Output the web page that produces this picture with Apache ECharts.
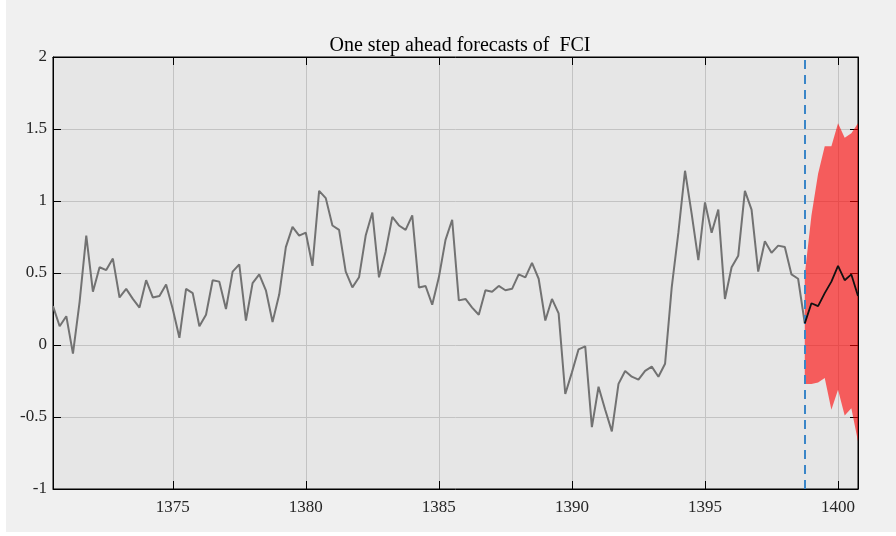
<!DOCTYPE html>
<html>
<head>
<meta charset="utf-8">
<script src="https://cdn.jsdelivr.net/npm/echarts@6/dist/echarts.min.js"></script>
<style>html,body{margin:0;padding:0;background:#fff;}#c{width:896px;height:536px;}</style>
</head>
<body>
<div id="c"></div>
<script>
// ---- data ----
const titleText = 'One step ahead forecasts of  FCI';
const startPeriod = 1370.5;   // first quarter on the time axis
const periodStep = 0.25;      // quarterly
const fciValues = [
  0.27, 0.13, 0.20, -0.06, 0.30, 0.76, 0.37, 0.54, 0.52, 0.60,
  0.33, 0.39, 0.32, 0.26, 0.45, 0.33, 0.34, 0.42, 0.25, 0.05,
  0.39, 0.36, 0.13, 0.21, 0.45, 0.44, 0.25, 0.51, 0.56, 0.17,
  0.43, 0.49, 0.38, 0.16, 0.35, 0.68, 0.82, 0.76, 0.78, 0.55,
  1.07, 1.02, 0.83, 0.80, 0.51, 0.40, 0.47, 0.76, 0.92, 0.47,
  0.65, 0.89, 0.83, 0.80, 0.90, 0.40, 0.41, 0.28, 0.47, 0.73,
  0.87, 0.31, 0.32, 0.26, 0.21, 0.38, 0.37, 0.41, 0.38, 0.39,
  0.49, 0.47, 0.57, 0.46, 0.17, 0.32, 0.22, -0.34, -0.19, -0.03,
  -0.01, -0.57, -0.29, -0.45, -0.60, -0.27, -0.18, -0.22, -0.24, -0.18,
  -0.15, -0.22, -0.13, 0.40, 0.78, 1.21, 0.91, 0.59, 0.99, 0.78,
  0.94, 0.32, 0.54, 0.62, 1.07, 0.94, 0.51, 0.72, 0.64, 0.69,
  0.68, 0.49, 0.46, 0.15
];
const forecastStart = 1398.75;
const forecastValues = [0.15, 0.29, 0.27, 0.36, 0.44, 0.55, 0.45, 0.49, 0.34];
const forecastUpper  = [0.49, 0.90, 1.19, 1.38, 1.38, 1.54, 1.44, 1.47, 1.54];
const forecastLower  = [-0.27, -0.27, -0.26, -0.23, -0.45, -0.31, -0.49, -0.44, -0.67];
const xMin = 1370.5, xMax = 1400.75;
const yMin = -1, yMax = 2, yStep = 0.5;

// ---- build ----
const histData = fciValues.map((v, i) => [startPeriod + i * periodStep, v]);
const fcX = forecastValues.map((v, k) => forecastStart + k * periodStep);
const fcData = forecastValues.map((v, k) => [fcX[k], v]);
const bandData = fcX.map((x, k) => [x, forecastLower[k], forecastUpper[k]]);

const FONT = 'Liberation Serif';
const chart = echarts.init(document.getElementById('c'), null, {renderer: 'canvas'});
const tickStyle = {show: true, inside: true, length: 8, lineStyle: {color: '#000', width: 1}};
chart.setOption({
  backgroundColor: '#ffffff',
  animation: false,
  graphic: [{
    type: 'rect', z: -10, silent: true,
    shape: {x: 6, y: 0, width: 890, height: 532},
    style: {fill: '#f0f0f0'}
  }],
  title: {
    text: titleText, left: 455, top: 31, textAlign: 'center',
    textStyle: {fontFamily: FONT, fontSize: 20, fontWeight: 'normal', color: '#000'}
  },
  grid: {
    left: 53, right: 38, top: 57, bottom: 47, show: true,
    backgroundColor: '#e6e6e6', borderColor: '#000', borderWidth: 1, containLabel: false
  },
  xAxis: [{
    type: 'value', min: xMin, max: xMax, splitNumber: 6,
    axisLine: {show: true, onZero: false, lineStyle: {color: '#000', width: 1}},
    axisTick: tickStyle,
    axisLabel: {show: true, showMinLabel: false, showMaxLabel: false, margin: 10,
      fontFamily: FONT, fontSize: 17, color: '#262626',
      formatter: function (v) { return String(v); }},
    splitLine: {show: true, lineStyle: {color: '#c3c3c3', width: 1}}
  }, {
    type: 'value', min: xMin, max: xMax, splitNumber: 6, position: 'top',
    axisLine: {show: true, onZero: false, lineStyle: {color: '#000', width: 1}},
    axisTick: tickStyle, axisLabel: {show: false}, splitLine: {show: false}
  }],
  yAxis: [{
    type: 'value', min: yMin, max: yMax, interval: yStep,
    axisLine: {show: true, onZero: false, lineStyle: {color: '#000', width: 1}},
    axisTick: tickStyle,
    axisLabel: {show: true, margin: 6, fontFamily: FONT, fontSize: 17, color: '#262626'},
    splitLine: {show: true, lineStyle: {color: '#c3c3c3', width: 1}}
  }, {
    type: 'value', min: yMin, max: yMax, interval: yStep, position: 'right',
    axisLine: {show: true, onZero: false, lineStyle: {color: '#000', width: 1}},
    axisTick: tickStyle, axisLabel: {show: false}, splitLine: {show: false}
  }],
  series: [{
    name: 'FCI', type: 'line', data: histData, showSymbol: false, symbol: 'none',
    lineStyle: {color: '#727272', width: 2}, z: 3
  }, {
    name: 'band', type: 'custom', data: bandData, encode: {x: 0, y: [1, 2]}, z: 4,
    renderItem: function (params, api) {
      if (params.dataIndex !== 0) return;
      const pts = [];
      for (let k = 0; k < fcX.length; k++) pts.push(api.coord([fcX[k], forecastUpper[k]]));
      for (let k = fcX.length - 1; k >= 0; k--) pts.push(api.coord([fcX[k], forecastLower[k]]));
      return {type: 'polygon', shape: {points: pts}, style: {fill: 'rgba(255,0,0,0.6)'}};
    }
  }, {
    name: 'forecast', type: 'line', data: fcData, showSymbol: false, symbol: 'none',
    lineStyle: {color: '#111', width: 1.8}, z: 5,
    markLine: {
      silent: true, symbol: 'none', label: {show: false},
      lineStyle: {color: '#3a86c8', width: 2, type: [9, 6]},
      data: [{xAxis: forecastStart}]
    }
  }]
});
</script>
</body>
</html>
